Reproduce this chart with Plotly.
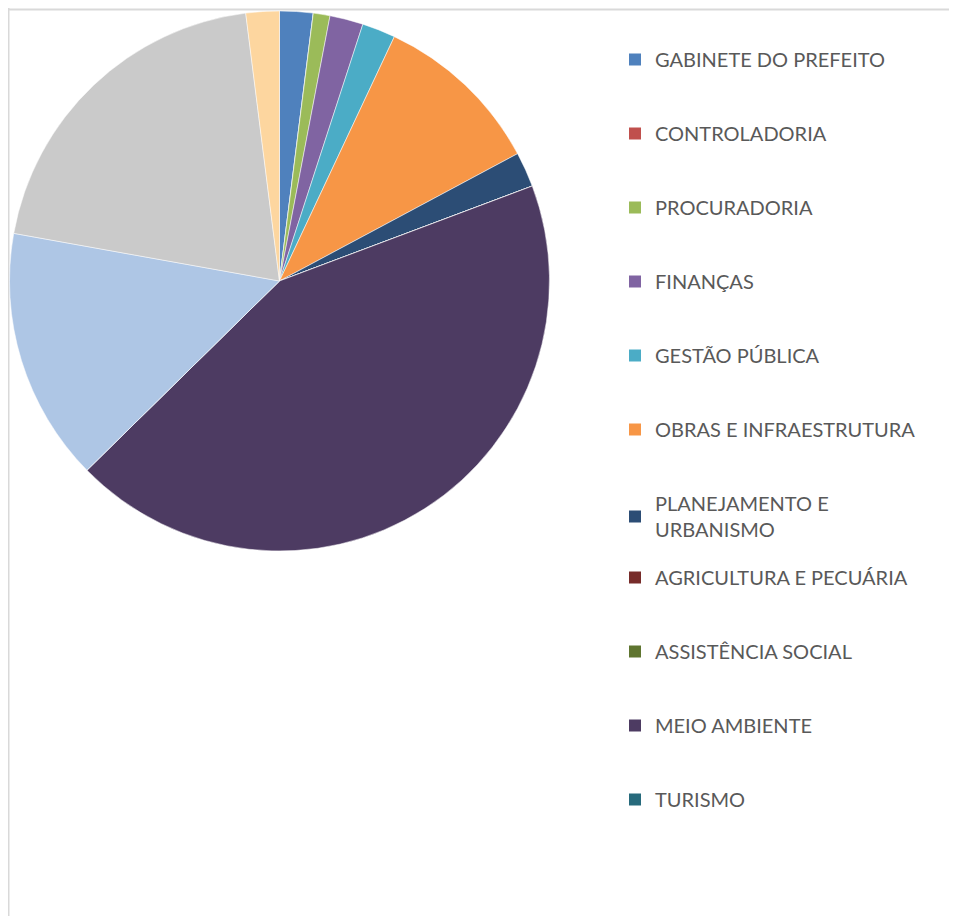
import plotly.graph_objects as go

# Legend categories (as shown in the reference legend)
legend_labels = [
    "GABINETE DO PREFEITO", "CONTROLADORIA", "PROCURADORIA", "FINANÇAS",
    "GESTÃO PÚBLICA", "OBRAS E INFRAESTRUTURA", "PLANEJAMENTO E URBANISMO",
    "AGRICULTURA E PECUÁRIA", "ASSISTÊNCIA SOCIAL", "MEIO AMBIENTE", "TURISMO",
]
legend_values = [2.0, 0.0, 1.0, 2.0, 2.0, 10.2, 2.1, 0.0, 0.0, 43.4, 0.0]
legend_colors = [
    "#4F81BD", "#C0504D", "#9BBB59", "#8064A2", "#4BACC6", "#F79646",
    "#2C4D75", "#772C2A", "#5F7530", "#4D3B62", "#276A7C",
]

# Further slices drawn in the pie but not listed in the (truncated) legend
extra_labels = ["OUTRA SECRETARIA 1", "OUTRA SECRETARIA 2", "OUTRA SECRETARIA 3"]
extra_values = [15.2, 20.2, 2.0]
extra_colors = ["#AEC6E5", "#CACACA", "#FDD69F"]

labels = legend_labels + extra_labels
values = legend_values + extra_values
colors = legend_colors + extra_colors

# the page body has an 8px margin, so the figure is sized to fit the window
W, H = 941, 908

fig = go.Figure()
fig.add_trace(go.Pie(
    labels=labels, values=values, sort=False, direction="clockwise",
    rotation=0, textinfo="none", showlegend=False,
    marker=dict(colors=colors, line=dict(color="#FFFFFF", width=0.5)),
    domain=dict(x=[1.5 / W, 541.5 / W], y=[1 - 543 / H, 1 - 3 / H]),
    hoverinfo="label+percent",
))

# legend entries (first block -> legend, second block -> legend2)
for i, (lab, col) in enumerate(zip(legend_labels, legend_colors)):
    text = lab.replace("PLANEJAMENTO E URBANISMO", "PLANEJAMENTO E<br>URBANISMO")
    fig.add_trace(go.Scatter(
        x=[None], y=[None], mode="markers", name=text,
        marker=dict(symbol="square", size=12, color=col, line=dict(width=0)),
        legendgroup=f"g{i}", showlegend=True,
        legend="legend" if i < 7 else "legend2",
    ))

legend_font = dict(family="Lato, 'Open Sans', sans-serif", size=20, color="#595959")
border = dict(color="#D9D9D9", width=2)
fig.update_layout(
    width=W, height=H,
    margin=dict(l=0, r=0, t=0, b=0),
    paper_bgcolor="#FFFFFF", plot_bgcolor="#FFFFFF",
    xaxis=dict(visible=False), yaxis=dict(visible=False),
    legend=dict(
        x=607 / W, xanchor="left", y=1 - 32 / H, yanchor="top",
        font=legend_font, traceorder="grouped", tracegroupgap=45,
        bgcolor="rgba(0,0,0,0)", borderwidth=0, itemclick=False,
    ),
    legend2=dict(
        x=607 / W, xanchor="left", y=1 - 550 / H, yanchor="top",
        font=legend_font, traceorder="grouped", tracegroupgap=45,
        bgcolor="rgba(0,0,0,0)", borderwidth=0, itemclick=False,
    ),
    shapes=[
        dict(type="line", xref="paper", yref="paper",
             x0=0.5 / W, x1=0.5 / W, y0=0, y1=1, line=border, layer="below"),
        dict(type="line", xref="paper", yref="paper",
             x0=0, x1=1, y0=1 - 1.5 / H, y1=1 - 1.5 / H, line=border, layer="below"),
    ],
)

fig.write_html("out.html")
